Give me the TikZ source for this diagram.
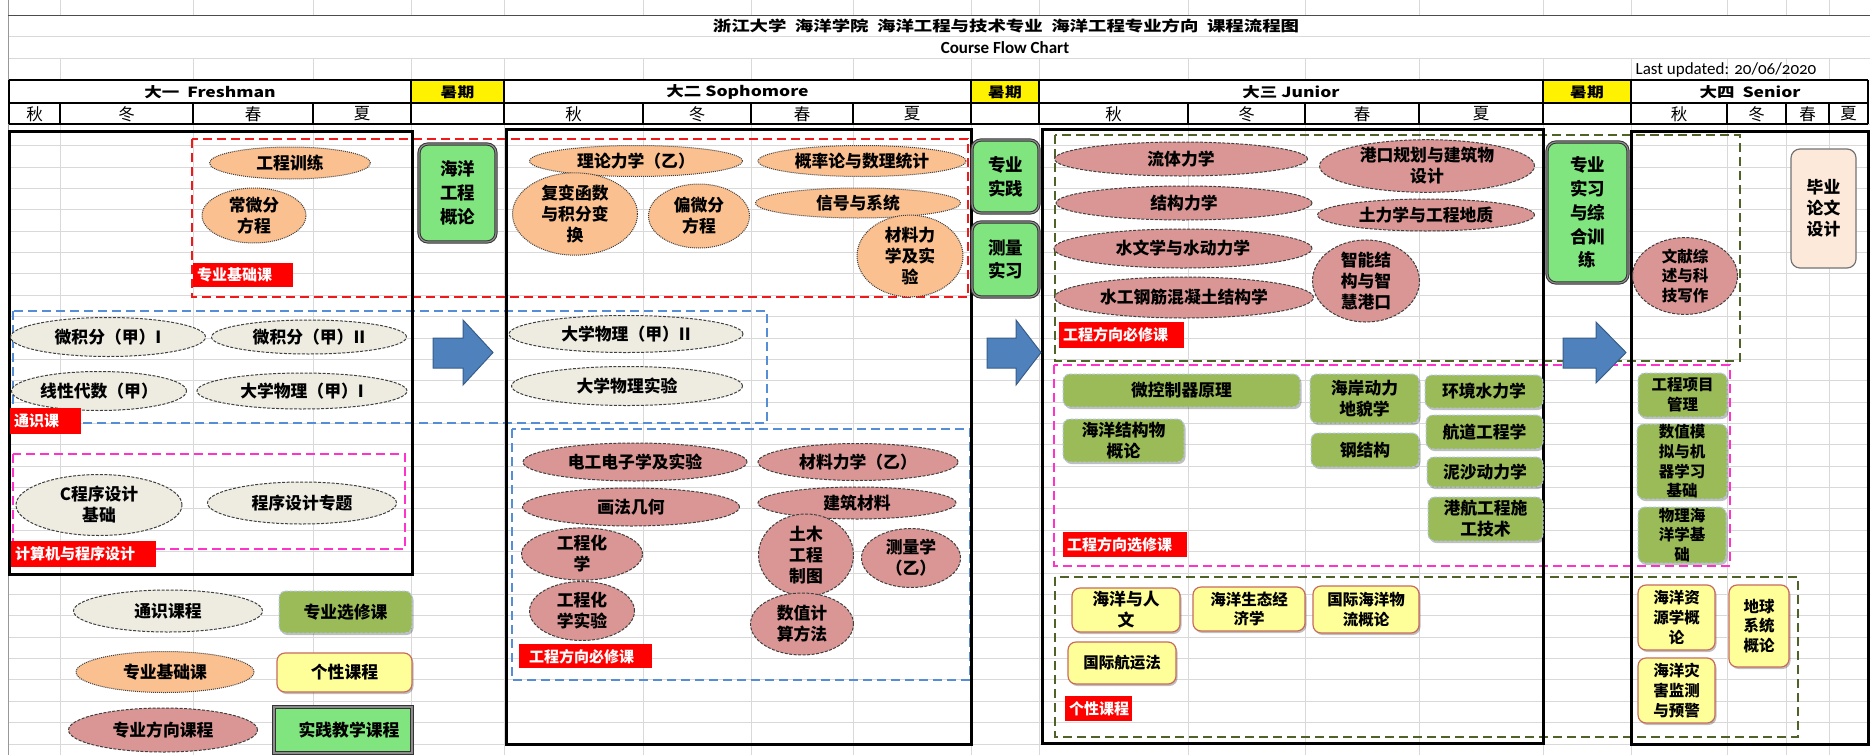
\documentclass[tikz,border=0pt]{standalone}
\usepackage{fontspec}
\setmainfont{Noto Sans CJK SC}
\newfontfamily\latfont{Carlito}[Numbers=OldStyle]
\usetikzlibrary{shapes.geometric,shadows}
\definecolor{peach}{HTML}{FAC090}
\definecolor{tanc}{HTML}{EEECE1}
\definecolor{rose}{HTML}{D99694}
\definecolor{olivef}{HTML}{9BBB59}
\definecolor{pyel}{HTML}{FFFF99}
\definecolor{pbord}{HTML}{C86A5E}
\definecolor{pgreen}{HTML}{80E57E}
\definecolor{thesis}{HTML}{FDE9D9}
\definecolor{arrowf}{HTML}{4F81BD}
\definecolor{arrowd}{HTML}{385D8A}
\definecolor{gridc}{HTML}{D9D9D9}
\definecolor{gred}{HTML}{F01818}
\definecolor{gblue}{HTML}{558ED5}
\definecolor{gmag}{HTML}{FF33CC}
\definecolor{golive}{HTML}{4F6228}
\definecolor{dgray}{HTML}{404040}
\definecolor{eleb}{HTML}{B4C6E0}
\newcommand\cfont{\fontsize{16.8}{21}\selectfont\bfseries}
\newcommand\sfont{\fontsize{15.5}{19.7}\selectfont\bfseries}
\newcommand\pfont{\fontsize{17.5}{23.8}\selectfont\bfseries}
\newcommand\lfont{\fontsize{15}{18}\selectfont\bfseries}
\tikzset{
  base/.style={font=\cfont, align=center, inner sep=0pt},
  pea/.style={base, ellipse, fill=peach, draw=dgray, line width=1pt, densely dotted},
  gen/.style={base, ellipse, fill=tanc, draw=dgray, line width=1pt, dash pattern=on 3pt off 1.5pt},
  ros/.style={base, ellipse, fill=rose, draw=dgray, line width=1pt, dash pattern=on 3pt off 1.5pt},
  ele/.style={base, rectangle, rounded corners=7pt, fill=olivef, draw=eleb, line width=1pt, dash pattern=on 3pt off 1.5pt,
    drop shadow={shadow xshift=1.5pt, shadow yshift=-2pt, opacity=0.25, fill=black}},
  per/.style={base, rectangle, rounded corners=8pt, fill=pyel, draw=pbord, line width=1.2pt,
    drop shadow={shadow xshift=1.5pt, shadow yshift=-2pt, opacity=0.25, fill=black}},
  prac/.style={base, rectangle, rounded corners=9pt, fill=pgreen, draw=black!80, line width=1pt, double=black!45, double distance=1.2pt, font=\pfont},
  thes/.style={base, rectangle, rounded corners=9pt, fill=thesis, draw=black!55, line width=1.2pt},
  lab/.style={fill=red, text=white, font=\lfont, inner xsep=4pt, inner ysep=0pt, anchor=north west, align=left},
  grp/.style={line width=2pt, dash pattern=on 9pt off 5pt},
  yrbox/.style={line width=3pt, draw=black},
  hdr/.style={font=\fontsize{14}{16}\selectfont\bfseries, inner sep=0pt},
  ssn/.style={font=\fontsize{16.5}{18}\selectfont, inner sep=0pt},
  blk/.style={fill=arrowf, draw=arrowd, line width=1pt, line join=miter}
}
\begin{document}
\begin{tikzpicture}[x=1pt,y=-1pt]
\useasboundingbox[fill=white] (0,0) rectangle (1870,755);
% ---------- spreadsheet grid ----------
\foreach \k in {0,...,29} \draw[gridc] (8,{124+21.37*\k}) -- (1870,{124+21.37*\k});
\draw[gridc] (8,36) -- (1870,36) (8,58) -- (1870,58);
\foreach \x in {60,193,313,411,504,643,751,853,971,1039,1188,1305,1419,1543,1631,1727,1786,1829} {
  \draw[gridc] (\x,124) -- (\x,755);
  \draw[gridc] (\x,0) -- (\x,15);
  \draw[gridc] (\x,58) -- (\x,80);
}
\draw[gridc!70!black] (8,0) -- (8,755);
\draw[black!70, line width=1pt] (8,15) -- (1870,15);
% ---------- header ----------
\fill[yellow] (411,80) rectangle (504,103);
\fill[yellow] (971,80) rectangle (1039,103);
\fill[yellow] (1543,80) rectangle (1631,103);
\draw[black, line width=1.2pt] (9,80) -- (1868,80) (9,103) -- (1868,103);
\draw[black, line width=1.6pt] (9,124) -- (1868,124);
\foreach \x in {9,411,504,971,1039,1543,1631,1868} \draw[black, line width=1.2pt] (\x,80) -- (\x,124);
\foreach \x in {60,193,313,643,751,853,1188,1305,1419,1727,1786,1829} \draw[black, line width=1.2pt] (\x,103) -- (\x,124);
\node[font=\fontsize{14.5}{16}\selectfont\bfseries, inner sep=0pt] (title) at (1006,26) {\scalebox{1.27}[1]{浙江大学\ \ 海洋学院\ \ 海洋工程与技术专业\ \ 海洋工程专业方向\ \ 课程流程图}};
\node[font=\latfont\fontsize{17}{18}\selectfont\bfseries, inner sep=0pt] (sub) at (1005,48) {Course Flow Chart};
\node[font=\latfont\fontsize{17}{18}\selectfont, inner sep=0pt] (upd) at (1726,70) {Last updated: 20/06/2020};
\node[hdr] (y1) at (210,92) {\scalebox{1.25}[1]{大一\ \ Freshman}};
\node[hdr] (s1) at (457.5,92) {\scalebox{1.2}[1]{暑期}};
\node[hdr] (y2) at (737.5,92) {\scalebox{1.25}[1]{大二 Sophomore}};
\node[hdr] (s2) at (1005,92) {\scalebox{1.2}[1]{暑期}};
\node[hdr] (y3) at (1291,92) {\scalebox{1.25}[1]{大三 Junior}};
\node[hdr] (s3) at (1587,92) {\scalebox{1.2}[1]{暑期}};
\node[hdr] (y4) at (1750,92) {\scalebox{1.25}[1]{大四\ \ Senior}};
\foreach \c/\t [count=\i] in {34.5/秋,126.5/冬,253/春,362/夏,573.5/秋,697/冬,802/春,912/夏,1113.5/秋,1246.5/冬,1362/春,1481/夏,1679/秋,1756.5/冬,1807.5/春,1848.5/夏}
  \node[ssn] (ss\i) at (\c,114) {\t};
% ---------- group frames ----------
\draw[grp, gred] (192,139) rectangle (968,297);
\draw[grp, gblue] (13,311) rectangle (767,423);
\draw[grp, gmag] (13,454) rectangle (405,549);
\draw[grp, gblue] (512,429) rectangle (970,680);
\draw[grp, golive] (1055,135) rectangle (1740,361);
\draw[grp, gmag] (1054,365) rectangle (1730,566);
\draw[grp, golive] (1055,577) rectangle (1798,737);
% ---------- year boxes ----------
\draw[yrbox] (9,131) rectangle (412,574);
\draw[yrbox] (506,129) rectangle (971,744);
\draw[yrbox] (1042,129) rectangle (1543,743);
\draw[yrbox] (1631,131) rectangle (1868,744);
% ---------- arrows ----------
\draw[blk] (433,338) -- (463,338) -- (463,320) -- (493,352.5) -- (463,385) -- (463,368) -- (433,368) -- cycle;
\draw[blk] (987,338) -- (1016,338) -- (1016,320) -- (1041,352.5) -- (1016,385) -- (1016,368) -- (987,368) -- cycle;
\draw[blk] (1563,338) -- (1596,338) -- (1596,322) -- (1626,352.5) -- (1596,383) -- (1596,368) -- (1563,368) -- cycle;
% ---------- year 1 ----------
\node[pea, minimum width=161pt, minimum height=32pt] (gcxl) at (290,163) {工程训练};
\node[pea, minimum width=104pt, minimum height=55pt] (cwf) at (254,215.5) {常微分\\方程};
\node[prac, minimum width=77pt, minimum height=98pt] (hygl) at (457.5,193) {海洋\\工程\\概论};
\node[gen, minimum width=195pt, minimum height=39pt] (wjf1) at (108,337) {微积分（甲）I};
\node[gen, minimum width=195pt, minimum height=34pt] (wjf2) at (309,337) {微积分（甲）II};
\node[gen, minimum width=175pt, minimum height=39pt] (xxds) at (99,391) {线性代数（甲）};
\node[gen, minimum width=210pt, minimum height=36pt] (dxwl1) at (302,391) {大学物理（甲）I};
\node[gen, minimum width=166pt, minimum height=61pt] (cprog) at (99,505) {C程序设计\\基础};
\node[gen, minimum width=189pt, minimum height=42pt] (prog) at (302,503) {程序设计专题};
% ---------- legend ----------
\node[gen, minimum width=189pt, minimum height=42pt] (lg1) at (168,611) {通识课程};
\node[pea, minimum width=178pt, minimum height=41pt] (lg2) at (165,672) {专业基础课};
\node[ros, minimum width=189pt, minimum height=44pt] (lg3) at (163,730) {专业方向课程};
\node[ele, minimum width=133pt, minimum height=42pt] (lg4) at (345.5,612) {专业选修课};
\node[per, minimum width=135pt, minimum height=39pt] (lg5) at (344.5,672.5) {个性课程};
\node[prac, rounded corners=0pt, font=\cfont, minimum width=138pt, minimum height=46pt] (lg6) at (343,730) {\hspace*{12pt}实践教学课程};
% ---------- year 2 ----------
\node[pea, minimum width=213pt, minimum height=31pt] (llx) at (636,161) {理论力学（乙）};
\node[pea, minimum width=208pt, minimum height=31pt] (gll) at (862,161) {概率论与数理统计};
\node[pea, minimum width=125pt, minimum height=68pt] (fbhs) at (575,214) {复变函数\\与积分变\\换};
\node[pea, minimum width=101pt, minimum height=64pt] (pwf) at (699,216) {偏微分\\方程};
\node[pea, minimum width=205pt, minimum height=30pt] (xhxt) at (858,203) {信号与系统};
\node[pea, minimum width=106pt, minimum height=66pt] (clx) at (910,256) {材料力\\学及实\\验};
\node[gen, minimum width=234pt, minimum height=37pt] (dxwl2) at (626,334) {大学物理（甲）II};
\node[gen, minimum width=231pt, minimum height=39pt] (dxsy) at (627,386) {大学物理实验};
\node[ros, minimum width=224pt, minimum height=38pt] (dgdz) at (635,462) {电工电子学及实验};
\node[ros, minimum width=200pt, minimum height=37pt] (clxy) at (858,462) {材料力学（乙）};
\node[ros, minimum width=217pt, minimum height=38pt] (hfjh) at (631,507) {画法几何};
\node[ros, minimum width=198pt, minimum height=32pt] (jzcl) at (857,503) {建筑材料};
\node[ros, minimum width=121pt, minimum height=44pt] (gchx) at (582,554) {工程化\\学};
\node[ros, minimum width=95pt, minimum height=58pt] (tmzt) at (806,555) {土木\\工程\\制图};
\node[ros, minimum width=99pt, minimum height=59pt] (clxz) at (911,558) {测量学\\（乙）};
\node[ros, minimum width=105pt, minimum height=59pt] (gchsy) at (582,611) {工程化\\学实验};
\node[ros, minimum width=103pt, minimum height=62pt] (szjs) at (802,624) {数值计\\算方法};
% ---------- summer 2 ----------
\node[prac, minimum width=67pt, minimum height=73pt] (zysj) at (1005.5,176.5) {专业\\实践};
\node[prac, minimum width=67pt, minimum height=75pt] (clsx) at (1005.5,259.5) {测量\\实习};
% ---------- year 3 required ----------
\node[ros, minimum width=253pt, minimum height=34pt] (ltlx) at (1181,159) {流体力学};
\node[ros, minimum width=215pt, minimum height=42pt] (gkgh) at (1427,166) {港口规划与建筑物\\设计};
\node[ros, minimum width=256pt, minimum height=34pt] (jglx) at (1184,203) {结构力学};
\node[ros, minimum width=217pt, minimum height=32pt] (tlx) at (1426,215) {土力学与工程地质};
\node[ros, minimum width=258pt, minimum height=39pt] (swx) at (1183,248.5) {水文学与水动力学};
\node[ros, minimum width=259pt, minimum height=41pt] (sggj) at (1184,297.5) {水工钢筋混凝土结构学};
\node[ros, minimum width=107pt, minimum height=73pt] (znjg) at (1366,281) {智能结\\构与智\\慧港口};
% ---------- summer 3 / year 4 ----------
\node[prac, minimum width=81pt, minimum height=141pt] (zysx) at (1587.5,212.5) {专业\\实习\\与综\\合训\\练};
\node[ros, font=\sfont, minimum width=105pt, minimum height=68pt] (wxzs) at (1685,276) {文献综\\述与科\\技写作};
\node[thes, minimum width=65pt, minimum height=119pt] (byll) at (1823.5,208.5) {毕业\\论文\\设计};
% ---------- year 3 electives ----------
\node[ele, minimum width=237pt, minimum height=33pt] (wkz) at (1181.5,390.5) {微控制器原理};
\node[ele, minimum width=121pt, minimum height=43pt] (hyjgw) at (1123.5,440.5) {海洋结构物\\概论};
\node[ele, minimum width=109pt, minimum height=49pt] (hadl) at (1364.5,398.5) {海岸动力\\地貌学};
\node[ele, minimum width=108pt, minimum height=34pt] (gjg) at (1365,450) {钢结构};
\node[ele, minimum width=118pt, minimum height=33pt] (hjsl) at (1484,391.5) {环境水力学};
\node[ele, minimum width=117pt, minimum height=34pt] (hdgc) at (1484.5,432) {航道工程学};
\node[ele, minimum width=116pt, minimum height=30pt] (nsdl) at (1485,472) {泥沙动力学};
\node[ele, minimum width=115pt, minimum height=44pt] (ghgc) at (1485.5,519) {港航工程施\\工技术};
% ---------- year 4 electives ----------
\node[ele, font=\sfont, minimum width=89pt, minimum height=44pt] (gcxm) at (1682.5,395) {工程项目\\管理};
\node[ele, font=\sfont, minimum width=90pt, minimum height=75pt] (szmn) at (1682,461.5) {数值模\\拟与机\\器学习\\基础};
\node[ele, font=\sfont, minimum width=88pt, minimum height=56pt] (wlhy) at (1682,535) {物理海\\洋学基\\础};
% ---------- personal courses ----------
\node[per, minimum width=108pt, minimum height=44pt] (hyrw) at (1126,610) {海洋与人\\文};
\node[per, font=\sfont, minimum width=112pt, minimum height=44pt] (hyst) at (1249,609) {海洋生态经\\济学};
\node[per, font=\sfont, minimum width=106pt, minimum height=47pt] (gjwl) at (1366,609.5) {国际海洋物\\流概论};
\node[per, font=\sfont, minimum width=108pt, minimum height=42pt] (gjhy) at (1122,663) {国际航运法};
\node[per, font=\sfont, minimum width=77pt, minimum height=65pt] (hyzy) at (1676.5,617.5) {海洋资\\源学概\\论};
\node[per, font=\sfont, minimum width=77pt, minimum height=65pt] (hyzh) at (1676.5,690.5) {海洋灾\\害监测\\与预警};
\node[per, font=\sfont, minimum width=60pt, minimum height=82pt] (dqxt) at (1759,626) {地球\\系统\\概论};
% ---------- red labels ----------
\node[lab, minimum height=24pt, text width=92pt] (l1) at (193,263) {专业基础课};
\node[lab, minimum height=26pt, text width=63pt] (l2) at (10,408) {通识课};
\node[lab, minimum height=26pt, text width=137pt] (l3) at (11,541) {计算机与程序设计};
\node[lab, minimum height=24pt, text width=125pt] (l4) at (519,644) {\hspace*{6pt}工程方向必修课};
\node[lab, minimum height=26pt, text width=117pt] (l5) at (1059,322) {工程方向必修课};
\node[lab, minimum height=25pt, text width=116pt] (l6) at (1063,532) {工程方向选修课};
\node[lab, minimum height=25pt, text width=59pt, inner xsep=4pt] (l7) at (1065,696) {个性课程};
\end{tikzpicture}
\end{document}
